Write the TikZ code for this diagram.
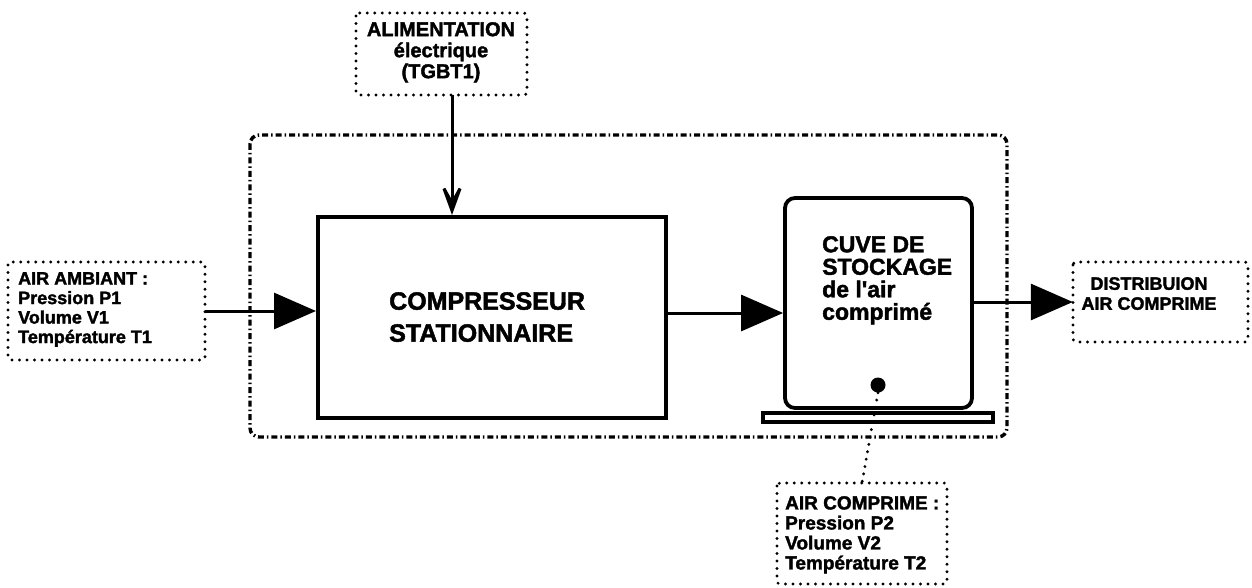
\documentclass[tikz,border=0pt]{standalone}
\usepackage{fontspec}
\newfontfamily\heavy{Liberation Sans Bold}[FakeBold=1.8]
\usetikzlibrary{arrows.meta,calc}
\tikzset{
  dotbox/.style={draw, line width=3.2pt, dash pattern=on 0pt off 7.5pt, line cap=round, rounded corners=3pt},
  txt/.style={inner sep=0pt},
  flow/.style={line width=3pt, -{Triangle[length=42pt,width=36pt]}},
  feed/.style={line width=3pt, -{Stealth[length=44pt,width=32pt,inset=29pt]}},
  frame/.style={draw, line width=3.4pt, dash pattern=on 6pt off 3pt on 1.5pt off 3pt, rounded corners=9pt}
}
\begin{document}
\begin{tikzpicture}[x=1pt,y=-1pt]
\useasboundingbox (0,0) rectangle (1252,588);
% frame
\draw[frame] (250,135) rectangle (1007,437);
% boxes
\draw[dotbox] (356,13) rectangle (527,95);
\node (alim) at (441.5,54) [minimum width=171pt, minimum height=82pt, inner sep=0pt] {};
\draw[dotbox] (8,262) rectangle (205,360);
\node (amb) at (106.5,311) [minimum width=197pt, minimum height=98pt, inner sep=0pt] {};
\draw[dotbox] (1073,262) rectangle (1248,342);
\node (dist) at (1160.5,302) [minimum width=175pt, minimum height=80pt, inner sep=0pt] {};
\draw[dotbox] (777,483) rectangle (947,584);
\node (ac) at (862,533.5) [minimum width=170pt, minimum height=101pt, inner sep=0pt] {};
\node (comp) at (492,317.5) [draw, line width=4pt, minimum width=348pt, minimum height=201pt, inner sep=0pt] {};
\node (cuve) at (878.5,303) [draw, line width=3.8pt, rounded corners=10pt, minimum width=187pt, minimum height=210pt, inner sep=0pt] {};
\node (base) at (878,417.5) [draw, line width=3.2pt, minimum width=230pt, minimum height=9pt, inner sep=0pt] {};
\node (dot) at (878,385) [circle, fill, inner sep=0pt, minimum size=15pt] {};
% texts
\node[txt, anchor=north, align=center, font=\heavy\fontsize{20}{21}\selectfont] (talim) at (441,22) {ALIMENTATION\\électrique\\(TGBT1)};
\node[txt, anchor=north west, align=left, font=\heavy\fontsize{18}{19.5}\selectfont] (tamb) at (18,272) {AIR AMBIANT :\\Pression P1\\Volume V1\\Température T1};
\node[txt, anchor=north west, align=left, font=\heavy\fontsize{25}{32}\selectfont] (tcomp) at (389,292) {COMPRESSEUR\\STATIONNAIRE};
\node[txt, anchor=north west, align=left, font=\heavy\fontsize{23}{22.5}\selectfont] (tcuve) at (822,236) {CUVE DE\\STOCKAGE\\de l'air\\comprimé};
\node[txt, anchor=north, align=center, font=\heavy\fontsize{18}{20}\selectfont] (tdist) at (1149,277) {DISTRIBUION\\AIR COMPRIME};
\node[txt, anchor=north west, align=left, font=\heavy\fontsize{19}{20}\selectfont] (tac) at (785,496) {AIR COMPRIME :\\Pression P2\\Volume V2\\Température T2};
% connectors
\coordinate (pin) at (452,0);
\coordinate (row) at (0,313);
\draw[feed] (alim.south -| pin) -- (comp.north -| pin);
\draw[flow] (amb.east) -- (amb.east -| comp.west);
\draw[flow] (comp.east |- row) -- (cuve.west |- row);
\draw[flow] (cuve.east |- dist.west) -- (dist.west);
\draw[line width=3.2pt, dash pattern=on 0pt off 7.5pt, line cap=round] (dot.south) -- (ac.north);
\end{tikzpicture}
\end{document}
